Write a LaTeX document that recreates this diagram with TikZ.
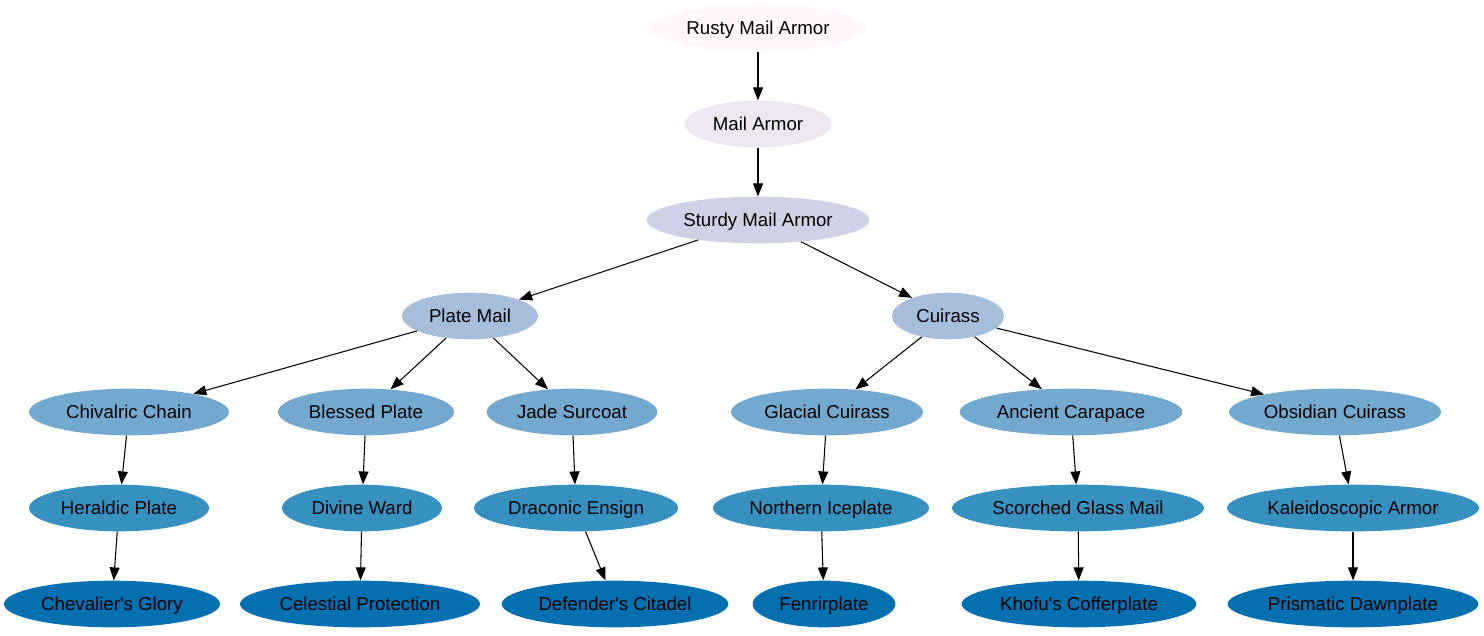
\documentclass[tikz,border=0pt]{standalone}
\usepackage{fontspec}
\setmainfont{Liberation Sans}
\usetikzlibrary{arrows.meta, shapes.geometric}

\definecolor{pubu1}{HTML}{FFF7FB}
\definecolor{pubu2}{HTML}{ECE7F2}
\definecolor{pubu3}{HTML}{D0D1E6}
\definecolor{pubu4}{HTML}{A6BDDB}
\definecolor{pubu5}{HTML}{74A9CF}
\definecolor{pubu6}{HTML}{3690C0}
\definecolor{pubu7}{HTML}{0570B0}

\tikzset{
  armor/.style={ellipse, draw=none, fill=#1, inner xsep=-12pt, inner ysep=0pt,
    minimum height=35pt, text height=10pt, text depth=0pt,
    font=\fontsize{14pt}{16pt}\selectfont},
  edge/.style={-{Triangle[length=9.75pt, width=7.5pt]}, line width=0.8pt}
}

\begin{document}
\begin{tikzpicture}[x=0.75pt, y=-0.75pt]
    \useasboundingbox (0,0) rectangle (1484,635);
    % Base armor chain
    \node[armor=pubu1, minimum width=162pt] (rusty) at (758,28) {Rusty Mail Armor};
    \node[armor=pubu2, minimum width=110pt] (mail) at (758,124) {Mail Armor};
    \node[armor=pubu3, minimum width=167pt] (sturdy) at (758,220) {Sturdy Mail Armor};
    % Branches
    \node[armor=pubu4, minimum width=102pt] (plate) at (470,316) {Plate Mail};
    \node[armor=pubu4, minimum width=84pt] (cuirass) at (948,316) {Cuirass};
    % Tier 4
    \node[armor=pubu5, minimum width=150pt] (chivalric) at (129,412) {Chivalric Chain};
    \node[armor=pubu5, minimum width=132pt] (blessed) at (366,412) {Blessed Plate};
    \node[armor=pubu5, minimum width=128pt] (jade) at (572,412) {Jade Surcoat};
    \node[armor=pubu5, minimum width=144pt] (glacial) at (827,412) {Glacial Cuirass};
    \node[armor=pubu5, minimum width=167pt] (ancient) at (1071,412) {Ancient Carapace};
    \node[armor=pubu5, minimum width=159pt] (obsidian) at (1335,412) {Obsidian Cuirass};
    % Tier 5
    \node[armor=pubu6, minimum width=135pt] (heraldic) at (119,508) {Heraldic Plate};
    \node[armor=pubu6, minimum width=120pt] (divine) at (362,508) {Divine Ward};
    \node[armor=pubu6, minimum width=153pt] (draconic) at (576,508) {Draconic Ensign};
    \node[armor=pubu6, minimum width=162pt] (northern) at (821,508) {Northern Iceplate};
    \node[armor=pubu6, minimum width=189pt] (scorched) at (1078,508) {Scorched Glass Mail};
    \node[armor=pubu6, minimum width=189pt] (kaleido) at (1353,508) {Kaleidoscopic Armor};
    % Tier 6
    \node[armor=pubu7, minimum width=162pt] (chevalier) at (112,604) {Chevalier\textquotesingle s Glory};
    \node[armor=pubu7, minimum width=180pt] (celestial) at (360,604) {Celestial Protection};
    \node[armor=pubu7, minimum width=170pt] (defender) at (615,604) {Defender\textquotesingle s Citadel};
    \node[armor=pubu7, minimum width=107pt] (fenrir) at (824,604) {Fenrirplate};
    \node[armor=pubu7, minimum width=176pt] (khofu) at (1079,604) {Khofu\textquotesingle s Cofferplate};
    \node[armor=pubu7, minimum width=188pt] (prismatic) at (1353,604) {Prismatic Dawnplate};
    % Upgrade edges
    \foreach \a/\b in {rusty/mail, mail/sturdy, sturdy/plate, sturdy/cuirass,
        plate/chivalric, plate/blessed, plate/jade,
        cuirass/glacial, cuirass/ancient, cuirass/obsidian,
        chivalric/heraldic, blessed/divine, jade/draconic,
        glacial/northern, ancient/scorched, obsidian/kaleido,
        heraldic/chevalier, divine/celestial, draconic/defender,
        northern/fenrir, scorched/khofu, kaleido/prismatic} {
      \draw[edge] (\a) -- (\b);
    }
\end{tikzpicture}
\end{document}
